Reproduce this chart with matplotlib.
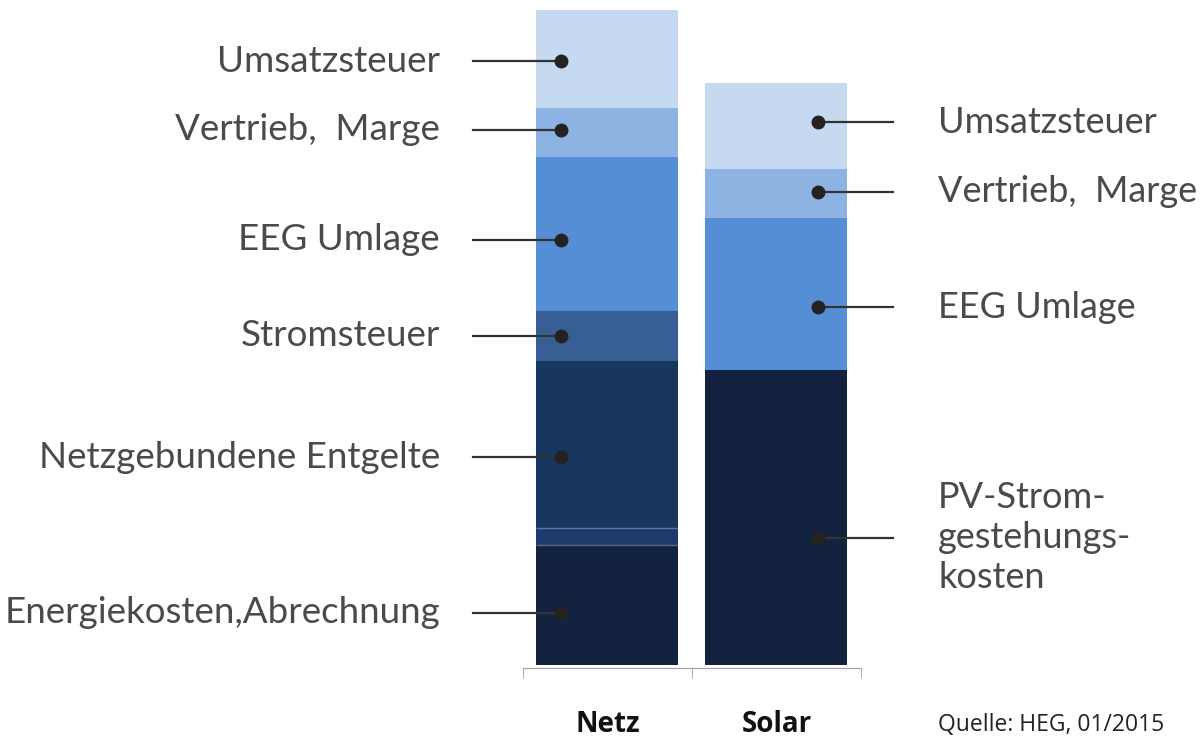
import numpy as np
import matplotlib.pyplot as plt

# Daten (ct/kWh, aus dem Bild geschätzt)
categories = ["Netz", "Solar"]

netz_parts = ["Energiekosten,Abrechnung", "Sonstige Umlagen", "Netzgebundene Entgelte",
              "Stromsteuer", "EEG Umlage", "Vertrieb,  Marge", "Umsatzsteuer"]
netz_values = [5.28, 0.75, 7.34, 2.20, 6.77, 2.15, 4.31]
netz_colors = ["#13233f", "#1c3a6e", "#17375e", "#385f93", "#558ed5", "#8db3e2", "#c5d9f1"]
netz_show = [True, False, True, True, True, True, True]
netz_shift = [-0.35, 0, -0.57, 0, -0.26, 0.13, -0.09]   # Versatz der Punkte zur Segmentmitte

solar_parts = ["PV-Strom-\ngestehungs-\nkosten", "EEG Umlage", "Vertrieb,  Marge", "Umsatzsteuer"]
solar_values = [12.97, 6.68, 2.15, 3.78]
solar_colors = ["#13233f", "#558ed5", "#8db3e2", "#c5d9f1"]
solar_shift = [-0.88, -0.57, 0.09, 0.18]

source = "Quelle: HEG, 01/2015"

fig = plt.figure(figsize=(12.03, 7.4), dpi=100)
ax = fig.add_axes([0.4347, 0.0973, 0.281, 0.8892])

label_font = dict(family=["Lato", "DejaVu Sans"], fontsize=26.5, color="#4a4a4a")
bar_w = 0.84


def draw_bar(x, values, colors):
    bottoms = np.concatenate([[0], np.cumsum(values)[:-1]])
    ax.bar([x] * len(values), values, bottom=bottoms, width=bar_w, color=colors,
           edgecolor="none", zorder=2)
    return bottoms, bottoms + np.array(values) / 2


netz_bot, netz_mid = draw_bar(0, netz_values, netz_colors)
solar_bot, solar_mid = draw_bar(1, solar_values, solar_colors)

# schmales Band: helle Kanten oben und unten
for b, v, show in zip(netz_bot, netz_values, netz_show):
    if not show:
        ax.hlines([b, b + v], -bar_w / 2, bar_w / 2, color=(1, 1, 1, 0.3), lw=1, zorder=3)

# Beschriftungen links (Netz)
for name, y, show, dy in zip(netz_parts, netz_mid, netz_show, netz_shift):
    if not show:
        continue
    yy = y + dy
    ax.plot([-0.796, -0.272], [yy, yy], color="#333333", lw=1.6, zorder=3, clip_on=False)
    ax.plot(-0.272, yy, "o", ms=9, color="#262222", zorder=4, clip_on=False)
    ax.text(-0.991, yy, name, ha="right", va="center", **label_font)

# Beschriftungen rechts (Solar)
for name, y, dy in zip(solar_parts, solar_mid, solar_shift):
    yy = y + dy
    ax.plot([1.246, 1.689], [yy, yy], color="#333333", lw=1.6, zorder=3, clip_on=False)
    ax.plot(1.246, yy, "o", ms=9, color="#262222", zorder=4, clip_on=False)
    ax.text(1.956, yy, name, ha="left", va="center", linespacing=1.25,
            family=["Lato", "DejaVu Sans"], fontsize=26, color="#4a4a4a")

ax.set_xlim(-0.5, 1.5)
ax.set_ylim(-0.13, 28.8)
for s in ["top", "right", "left"]:
    ax.spines[s].set_visible(False)
ax.spines["bottom"].set_color("#a0a0a0")
ax.set_yticks([])
ax.set_xticks([0, 1])
ax.set_xticklabels(categories, family=["Open Sans", "DejaVu Sans"], fontsize=20,
                   fontweight="bold", color="#111111")
ax.tick_params(axis="x", which="major", length=0, pad=30)
ax.set_xticks([-0.5, 0.5, 1.5], minor=True)
ax.tick_params(axis="x", which="minor", length=7, color="#a0a0a0", direction="out")

fig.text(0.7797, 0.004, source, ha="left", va="bottom",
         family=["Open Sans", "DejaVu Sans"], fontsize=16.5, color="#222222")

fig.savefig("out.png", dpi=100)
